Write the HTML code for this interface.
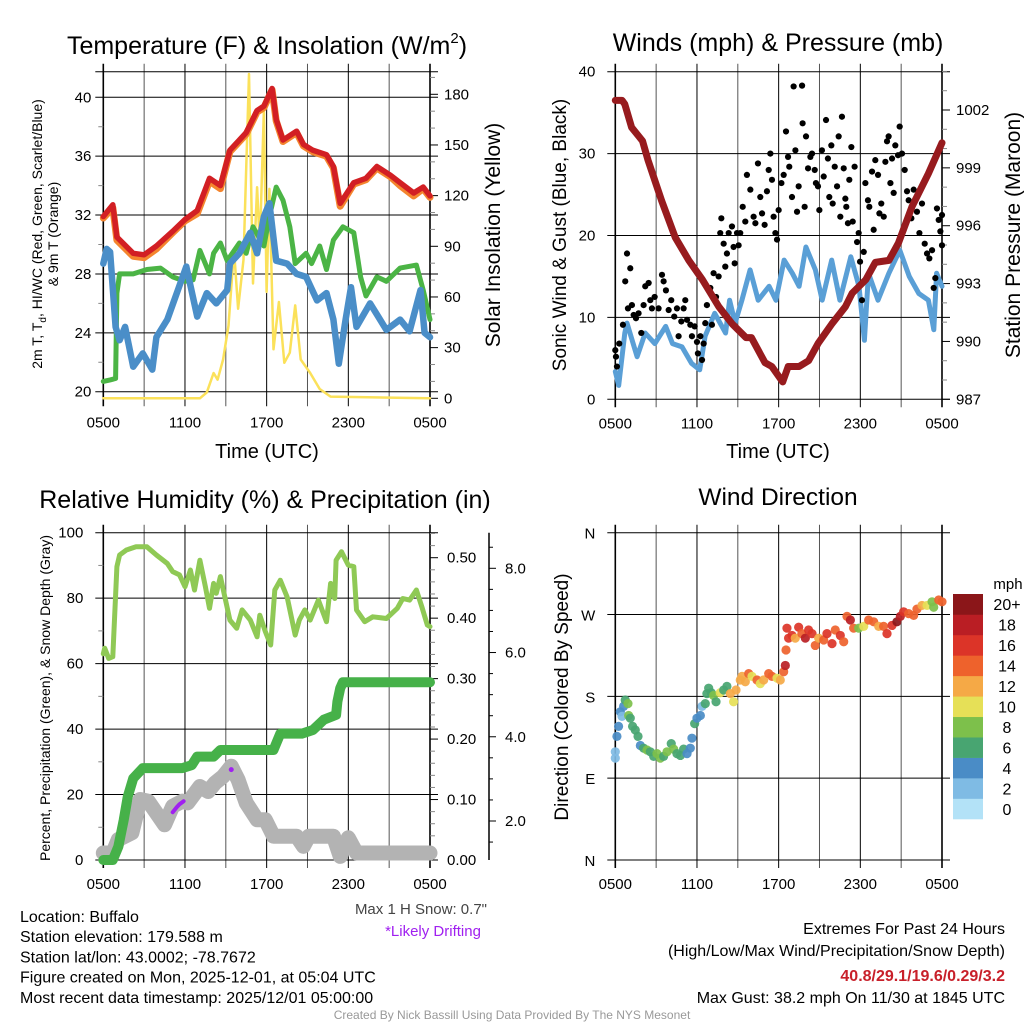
<!DOCTYPE html>
<html><head><meta charset="utf-8"><style>
body{margin:0;background:#fff}
svg{display:block}
text{font-family:"Liberation Sans",sans-serif}
</style></head><body>
<svg id="svg" width="1024" height="1024" viewBox="0 0 1024 1024" xmlns="http://www.w3.org/2000/svg"></svg>
<script>
// ---------- data ----------
const xTickLabels=["0500","1100","1700","2300","0500"];
// Temperature panel
const tempRedH=[0,0.7,1,2.2,3,3.9,5.1,6,6.9,7.8,8.6,9.3,10,10.5,11.3,11.8,12.4,12.7,13.2,14.2,14.7,15.4,16.4,16.9,17.4,18.4,19.3,20.1,21.1,21.8,22.8,23.5,24];
const tempRedV=[31.9,32.7,30.5,29.4,29.3,29.9,30.9,31.7,32.3,34.5,34.0,36.4,37.1,37.6,39.1,39.4,40.6,38.5,37.1,37.7,36.8,36.4,36.1,35.3,32.8,34.2,34.5,35.3,34.7,34.2,33.5,33.9,33.3];
const tempOrangeV=[31.8,32.5,30.3,29.2,29.1,29.7,30.8,31.6,32.1,34.3,33.8,36.3,37.0,37.5,39.0,39.3,40.5,38.4,37.0,37.6,36.7,36.3,36.0,35.2,32.6,34.1,34.4,35.2,34.6,34.0,33.3,33.8,33.2];
const dewH=[0,0.5,0.9,1,1.2,2.2,3.2,4.2,5.1,6,6.6,7.1,7.8,8.1,8.6,9.1,10,10.5,11,11.8,12.2,12.7,13.2,13.7,14.1,14.9,15.3,15.9,16.4,16.9,17.6,18.4,18.9,19.3,20.1,20.8,21.8,23,23.5,24];
const dewV=[20.7,20.8,20.9,26.7,28.0,28.0,28.3,28.4,27.8,27.5,27.6,29.6,28.0,29.4,30.1,28.9,30.1,29.4,31.2,29.9,31.9,33.9,33.0,31.2,28.7,29.4,28.7,29.9,28.3,30.3,31.2,30.8,27.8,26.5,27.8,27.5,28.4,28.6,26.9,24.9];
const wcH=[0,0.25,0.5,0.9,1.2,1.6,2.2,2.9,3.6,3.9,4.7,5.4,6.1,6.9,7.6,8.3,9.1,9.3,10,10.8,11.3,11.8,12.2,12.7,13.5,14.2,14.9,15.7,16.4,16.9,17.3,17.8,18.2,18.6,19.6,20.8,21.8,22.5,23.3,23.6,24];
const wcV=[28.7,29.7,29.5,24.4,23.5,24.4,21.7,22.6,21.5,23.7,24.9,26.7,28.5,25.1,26.7,26.0,26.9,28.7,29.4,30.8,29.4,31.9,32.8,28.9,28.7,28.0,27.8,26.2,26.7,24.9,21.9,24.9,27.1,24.4,26.0,24.2,24.9,24.1,26.9,24.0,23.7];
const solarH=[0,7.1,7.6,8.1,8.4,8.8,9.2,9.6,9.9,10.3,10.7,11,11.3,11.5,11.8,12,12.2,12.5,12.9,13.3,13.7,14.1,14.5,15.2,15.9,16.7,24];
const solarV=[0,0,3.5,15,11,23,43,88,53,82,192,68,125,90,171,63,124,29,57,21,27,55,23,15,5.5,1,0];
// Winds panel
const windH=[0,0.25,0.7,0.86,1.6,2.2,2.9,3.7,4.2,4.9,5.6,6.2,6.6,7.3,8.1,8.4,8.8,9.3,9.9,10.5,11.3,11.8,12.4,13,13.5,14,14.7,15.2,15.9,16.5,17.3,17.9,18.3,18.6,19.3,20.1,20.9,21.6,22.3,23,23.4,23.6,24];
const windV=[3.4,1.7,8.1,9.3,5.2,8.1,6.8,8.9,6.8,6.4,4.4,3.6,7.7,10.5,8.1,12.1,9.3,12.1,15.8,12.1,13.8,12.1,17.0,15.4,13.8,18.6,15.8,12.1,17.0,12.1,17.4,13.8,7.2,15.4,12.1,15.4,18.2,15.0,12.9,12.1,8.5,15.4,13.8];
const presH=[0,0.5,0.7,1.2,2,2.4,3.4,4.4,5.4,6.4,7.6,8.6,9.6,10,11,11.5,12.3,12.7,13.5,14.2,14.9,15.9,16.9,17.4,18.4,19.1,20.1,20.8,21.8,23,24];
const presV=[1002.5,1002.5,1002.3,1001.1,1000.4,999.4,997.3,995.4,994.2,993.2,991.8,990.9,990.2,990.2,988.9,988.7,987.9,988.7,988.7,989.0,989.9,990.9,991.8,992.5,993.2,994.1,994.2,995.1,997.0,998.7,1000.3];
const gustH=[0,0.05,0.12,0.29,0.56,0.73,0.86,1.10,0.93,1.22,1.35,1.52,1.71,1.91,2.08,2.20,2.45,2.57,2.69,2.89,3.18,3.43,3.55,3.72,3.92,4.11,4.33,4.53,4.65,4.85,5.02,5.14,5.27,5.51,5.63,5.83,6.00,6.07,6.25,6.37,6.49,6.61,6.73,6.98,7.10,7.22,7.40,7.59,7.71,7.79,7.96,8.08,8.20,8.33,8.57,8.69,8.77,8.94,9.06,9.18,9.36,9.55,9.67,9.92,10.16,10.29,10.48,10.65,10.78,10.97,11.14,11.27,11.39,11.51,11.63,11.76,11.88,12.00,12.20,12.37,12.54,12.69,12.78,12.98,13.10,13.23,13.35,13.47,13.72,13.76,13.91,14.01,14.16,14.33,14.45,14.65,14.74,14.89,14.99,15.18,15.31,15.48,15.62,15.72,15.87,15.97,16.12,16.29,16.41,16.53,16.65,16.78,16.90,16.97,17.09,17.19,17.34,17.44,17.58,17.76,17.88,17.98,18.12,18.25,18.37,18.56,18.66,18.86,18.98,19.10,19.30,19.40,19.54,19.72,19.84,19.96,20.08,20.21,20.33,20.45,20.57,20.77,20.89,21.06,21.26,21.43,21.55,21.75,21.92,22.16,22.34,22.53,22.73,22.90,23.07,23.27,23.39,23.51,23.63,23.76,23.88,24.0,24.0];
const gustV=[6.0,5.2,4.0,6.8,9.1,14.4,17.8,16.0,11.1,11.5,10.3,9.9,10.5,8.1,11.5,13.8,14.2,12.1,11.1,12.5,11.1,15.2,14.4,13.3,10.9,12.1,10.1,11.1,7.7,9.5,11.1,12.1,9.7,9.1,7.7,8.9,7.0,5.6,7.7,4.8,6.8,9.3,11.5,13.6,9.1,15.4,12.5,15.0,20.3,22.1,19.0,16.2,17.8,20.3,21.1,18.6,16.6,20.3,18.8,20.3,23.5,21.7,27.4,25.6,22.3,21.5,28.8,24.7,22.7,21.3,25.4,28.0,30.0,26.8,22.3,20.3,19.5,23.1,26.4,27.4,32.7,29.6,28.4,24.7,38.2,30.4,22.9,26.0,38.3,33.7,23.5,32.1,28.2,29.6,30.0,28.0,26.4,26.0,23.1,30.4,27.2,34.1,29.4,24.7,31.0,23.9,28.4,26.0,32.1,22.3,34.5,28.2,24.5,23.5,21.5,26.8,30.8,21.7,28.4,19.2,20.3,16.8,12.1,18.0,26.4,24.3,23.5,27.8,20.7,29.2,27.4,22.7,23.9,22.3,29.0,31.5,32.1,26.4,29.4,25.2,31.0,29.8,33.3,30.0,28.0,25.4,24.3,22.1,25.6,22.9,20.3,23.9,19.0,17.8,17.2,18.2,13.6,14.8,23.3,21.9,20.5,22.5,18.8];
// RH / precip panel
const rhH=[0,0.1,0.4,0.7,1,1.2,1.7,2.4,3.2,3.9,4.7,5.1,5.6,6,6.4,6.7,7.1,7.5,7.8,8.1,8.3,8.6,9.3,9.8,10.2,10.8,11.3,11.5,11.9,12.3,12.6,13,13.5,14.1,14.4,14.8,15.2,15.8,16.4,16.7,17,17.1,17.5,18,18.4,18.6,19.2,19.8,20.8,21.6,22,22.5,23,23.4,23.8,24];
const rhV=[63,64.7,61.6,62.1,89.6,93.2,94.7,95.7,95.7,93.2,90.6,88.1,87.1,83.5,88.6,82.5,91.6,83.5,76.9,84.5,81.5,86.6,73.3,70.8,76.4,73.3,68.2,74.8,69.8,65.7,82.5,85.5,80.4,68.7,73.3,76.4,73.3,79.4,72.8,84.5,79.9,91.6,94.2,90.1,89.6,76.4,72.8,74.3,73.8,76.9,79.9,79.4,82.5,77.4,71.8,71.3];
const precipH=[0,0.7,1.1,1.5,1.8,2.2,2.9,5.8,6.5,6.9,8.1,8.6,12.5,13,14.6,15.4,16.2,17.1,17.2,17.4,17.6,24];
const precipV=[0,0,0.022,0.066,0.105,0.135,0.152,0.152,0.157,0.171,0.171,0.182,0.182,0.209,0.209,0.215,0.232,0.240,0.262,0.284,0.294,0.294];
const snowH=[0,0.7,1.1,2.1,2.7,3.3,3.9,4.5,5.1,5.8,6.2,7.1,7.7,8.2,8.8,9.4,9.9,10.5,11.3,11.9,12.5,14.2,14.7,15.1,16.9,17.4,18,18.6,24];
const snowV=[1.24,1.24,1.56,1.72,2.51,2.47,2.19,1.91,2.35,2.47,2.43,2.82,2.70,2.90,3.06,3.30,2.98,2.43,2.03,2.03,1.64,1.64,1.40,1.64,1.64,1.16,1.60,1.24,1.24];
const driftH=[5.1,5.4,5.6,5.9];
const driftV=[2.21,2.33,2.40,2.47];
const driftDotH=[9.4];
const driftDotV=[3.22];
// Wind direction panel
const dirH=[0,0,0.12,0.24,0.37,0.49,0.61,0.73,0.93,0.98,1.10,1.27,1.47,1.67,1.84,2.08,2.33,2.57,2.82,3.06,3.31,3.55,3.80,4.11,4.29,4.53,4.78,5.02,5.27,5.51,5.63,5.83,6.00,6.25,6.37,6.61,6.73,6.86,7.05,7.22,7.40,7.71,7.96,8.20,8.45,8.69,8.87,9.18,9.31,9.55,9.80,10.04,10.41,10.65,10.90,11.27,11.51,11.88,12.12,12.37,12.49,12.54,12.61,12.73,12.98,13.22,13.47,13.71,13.96,14.20,14.45,14.69,14.94,15.31,15.55,15.92,16.16,16.53,16.78,17.02,17.27,17.51,17.88,18.25,18.61,18.98,19.35,19.71,19.96,20.33,20.69,20.94,21.18,21.55,21.92,22.16,22.53,22.90,23.27,23.39,23.76,24];
const dirDeg=[112,119,136,147,163,158,169,176,172,159,156,147,143,136,126,123,121,119,114,117,112,114,119,128,122,117,115,122,117,123,134,150,156,159,169,172,183,189,184,181,174,184,187,191,183,174,187,198,202,196,205,202,198,194,198,205,202,200,198,207,214,231,255,244,247,244,256,249,244,253,249,236,244,242,249,238,253,247,240,268,264,255,255,257,264,262,257,257,249,258,262,268,273,271,269,276,280,280,284,278,286,284];
const dirSpd=[2,3,4,4,4,3,5,7,8,8,7,6,6,6,5,7,8,6,6,8,8,7,8,6,8,6,6,6,4,4,4,6,4,4,3,6,6,6,7,8,6,11,6,7,12,10,12,12,12,13,14,11,14,10,12,15,14,10,13,15,18,14,16,17,16,13,16,15,18,17,16,14,13,15,16,16,15,16,14,15,19,14,9,10,15,15,12,15,16,16,20,19,17,15,14,14,13,10,8,9,14,14];
const speedBinLabels=["0","2","4","6","8","10","12","14","16","18","20+"];
const speedBinColors=["#b3e2f7","#7fbbe4","#4a8cc6","#48a571","#7dc04b","#e6e057","#f5a946","#ee622c","#dc3428","#ba1e24","#8b1619"];

// ---------- helpers ----------
const NS="http://www.w3.org/2000/svg";
const svg=document.getElementById('svg');
function mk(tag,attrs,parent,txt){const e=document.createElementNS(NS,tag);for(const k in attrs)e.setAttribute(k,attrs[k]);if(txt!==undefined)e.textContent=txt;(parent||svg).appendChild(e);return e;}
function lin(d0,d1,r0,r1){return v=>r0+(v-d0)*(r1-r0)/(d1-d0);}
const X0=103.3,X1=430,X0b=615.3,X1b=942;

function label(g,x,y,t,size,anchor,rot,name,extra){
  const a={x:x,y:y,'font-size':size,'text-anchor':anchor||'middle',fill:'#000'};
  if(rot)a.transform='rotate(-90 '+x+' '+y+')';
  Object.assign(a,extra||{});
  const e=mk('text',a,g,t);return e;}
function frame(g,x0,x1,yt,yb,hLines){
  for(let i=0;i<=8;i++){const x=x0+(x1-x0)*i/8;
    const l=mk('line',{x1:x,x2:x,y1:yt-8,y2:yb+8,stroke:(i%2?'#555':'#000'),'stroke-width':(i==0||i==8)?1.6:1},g);
    }
  hLines.forEach(y=>{const l=mk('line',{x1:x0-8,x2:x1+8,y1:y,y2:y,stroke:'#000','stroke-width':1},g);
    });
  xTickLabels.forEach((t,i)=>label(g,x0+(x1-x0)*i/4,yb+29,t,15,'middle',0,'x-tick-label'));
}
function path(g,hs,vs,sx,sy,attrs,name){
  let d='';hs.forEach((h,i)=>{d+=(i?'L':'M')+sx(h).toFixed(1)+','+sy(vs[i]).toFixed(1);});
  const p=mk('path',Object.assign({d:d,fill:'none','stroke-linejoin':'round','stroke-linecap':'round'},attrs),g);
  return p;}

// ---------- Panel 1: temperature ----------
{
const g=mk('g',{});
const yt=71.7,yb=398.3;
const sy=lin(20,40,391.7,97.3), sx=lin(0,24,X0,X1), ss=lin(0,180,398.3,94.3);
frame(g,X0,X1,yt,yb,[20,24,28,32,36,40].map(sy).concat([yt]));
[22,26,30,34,38].forEach(v=>mk('line',{x1:X0-5,x2:X0,y1:sy(v),y2:sy(v),stroke:'#888'},g));
[20,24,28,32,36,40].forEach(v=>label(g,X0-12,sy(v)+5,String(v),15,'end',0,'left-tick-label'));
for(let v=0;v<=190;v+=10){const y=ss(v);mk('line',{x1:X1,x2:X1+(v%30?5:8),y1:y,y2:y,stroke:v%30?'#888':'#000'},g);}
[0,30,60,90,120,150,180].forEach(v=>label(g,X1+14,ss(v)+5,String(v),15,'start',0,'right-tick-label'));
path(g,solarH,solarV,sx,ss,{stroke:'#fbe15a','stroke-width':2.5},'solar-insolation-line');
path(g,dewH,dewV,sx,sy,{stroke:'#4bb445','stroke-width':5},'dewpoint-line');
path(g,wcH,wcV,sx,sy,{stroke:'#4a8ec8','stroke-width':6.5},'wind-chill-line');
path(g,tempRedH,tempOrangeV,sx,sy,{stroke:'#f4852e','stroke-width':7},'temp-9m-line');
path(g,tempRedH,tempRedV,sx,sy,{stroke:'#d21f24','stroke-width':5.5},'temp-2m-line');
const tt=label(g,267,54,'',25,'middle',0,'chart-title-temperature');
mk('tspan',{},tt,'Temperature (F) & Insolation (W/m');
mk('tspan',{'font-size':15,dy:-11},tt,'2');
mk('tspan',{dy:11},tt,')');
label(g,267,458,'Time (UTC)',20,'middle',0,'x-axis-title');
const yl=label(g,42,234,'',14,'middle',1,'y-axis-title');
mk('tspan',{},yl,'2m T, T');mk('tspan',{'font-size':10,dy:4},yl,'d');mk('tspan',{dy:-4},yl,', HI/WC (Red, Green, Scarlet/Blue)');
label(g,58,234,'& 9m T (Orange)',14,'middle',1,'y-axis-title-line2');
label(g,500,235,'Solar Insolation (Yellow)',21,'middle',1,'right-axis-title');
}
// ---------- Panel 2: winds ----------
{
const g=mk('g',{});
const yt=71.7,yb=399.3;
const sy=lin(0,40,399.3,71.7), sx=lin(0,24,X0b,X1b), sp=lin(987,1002,399.3,110);
frame(g,X0b,X1b,yt,yb,[0,10,20,30,40].map(sy));
[0,10,20,30,40].forEach(v=>label(g,X0b-20,sy(v)+5,String(v),15,'end',0,'left-tick-label'));
for(let v=987;v<=1004;v++){const y=sp(v);mk('line',{x1:X1b,x2:X1b+((v-987)%3?5:8),y1:y,y2:y,stroke:(v-987)%3?'#888':'#000'},g);}
[987,990,993,996,999,1002].forEach(v=>label(g,X1b+14,sp(v)+5,String(v),15,'start',0,'right-tick-label'));
path(g,windH,windV,sx,sy,{stroke:'#5a9fd6','stroke-width':5},'sonic-wind-line');
gustH.forEach((h,i)=>{const c=mk('circle',{cx:sx(h),cy:sy(gustV[i]),r:3.1,fill:'#000'},g);
  });
path(g,presH,presV,sx,sp,{stroke:'#971b1e','stroke-width':7},'pressure-line');
label(g,778,51,'Winds (mph) & Pressure (mb)',25,'middle',0,'chart-title-winds');
label(g,778,458,'Time (UTC)',20,'middle',0,'x-axis-title');
label(g,566,235,'Sonic Wind & Gust (Blue, Black)',19,'middle',1,'y-axis-title');
label(g,1020,235,'Station Pressure (Maroon)',21,'middle',1,'right-axis-title');
}
// ---------- Panel 3: RH & precip ----------
{
const g=mk('g',{});
const yt=532.7,yb=860;
const sy=lin(0,100,860,532.7), sx=lin(0,24,X0,X1), sp=lin(0,0.5,860,557.7), sn=lin(2,8,821,568.3);
frame(g,X0,X1,yt,yb,[0,20,40,60,80,100].map(sy));
[0,20,40,60,80,100].forEach(v=>label(g,X0-20,sy(v)+5,String(v),15,'end',0,'left-tick-label'));
[10,30,50,70,90].forEach(v=>mk('line',{x1:X0-5,x2:X0,y1:sy(v),y2:sy(v),stroke:'#888'},g));
for(let k=0;k<=27;k++){const v=k*0.02;const y=sp(v);if(y<yt-2)continue;mk('line',{x1:X1,x2:X1+(k%5?5:8),y1:y,y2:y,stroke:k%5?'#888':'#000'},g);}
["0.00","0.10","0.20","0.30","0.40","0.50"].forEach((t,i)=>label(g,X1+17,sp(i*0.1)+5,t,15,'start',0,'precip-tick-label'));
const ax=489;
const sa=mk('line',{x1:ax,x2:ax,y1:yt,y2:yb,stroke:'#000','stroke-width':1.5},g);

for(let k=2;k<=17;k++){const v=k*0.5;const y=sn(v);if(y<yt||y>yb)continue;mk('line',{x1:ax,x2:ax+(k%4?4:7),y1:y,y2:y,stroke:'#000'},g);}
[2,4,6,8].forEach(v=>label(g,505,sn(v)+5,v.toFixed(1),15,'start',0,'snow-tick-label'));
path(g,snowH,snowV,sx,sn,{stroke:'#b3b3b3','stroke-width':15},'snow-depth-line');
path(g,driftH,driftV,sx,sn,{stroke:'#a020f0','stroke-width':4},'drifting-segment');
driftDotH.forEach((h,i)=>{const c=mk('circle',{cx:sx(h),cy:sn(driftDotV[i]),r:2.5,fill:'#a020f0'},g);});
path(g,precipH,precipV,sx,sp,{stroke:'#46b149','stroke-width':10},'precipitation-line');
path(g,rhH,rhV,sx,sy,{stroke:'#8fc955','stroke-width':5},'relative-humidity-line');
label(g,265,508,'Relative Humidity (%) & Precipitation (in)',25,'middle',0,'chart-title-humidity');
label(g,50,698,'Percent, Precipitation (Green), & Snow Depth (Gray)',14,'middle',1,'y-axis-title');
label(g,487,914,'Max 1 H Snow: 0.7"',15,'end',0,'max-snow-note',{fill:'#444'});
label(g,433,936,'*Likely Drifting',15,'middle',0,'drifting-note',{fill:'#a020f0'});
}
// ---------- Panel 4: wind direction ----------
{
const g=mk('g',{});
const yt=532.7,yb=860;
const sy=lin(0,360,860,532.7), sx=lin(0,24,X0b,X1b);
frame(g,X0b,X1b,yt,yb,[0,90,180,270,360].map(sy));
["N","E","S","W","N"].forEach((t,i)=>label(g,X0b-20,sy(i*90)+6,t,15,'end',0,'direction-tick-label'));
dirH.forEach((h,i)=>{const b=Math.min(10,Math.floor(dirSpd[i]/2));
  const c=mk('circle',{cx:sx(h),cy:sy(dirDeg[i]),r:4.6,fill:speedBinColors[b],'fill-opacity':0.92},g);
  });
const lb0=819,lh=(819-594)/11;
speedBinColors.forEach((c,i)=>{const r=mk('rect',{x:953,y:lb0-(i+1)*lh,width:30,height:lh+0.3,fill:c},g);
  
  label(g,1007,lb0-i*lh-lh/2+6,speedBinLabels[i],16,'middle',0,'legend-label');});
label(g,1008,589,'mph',15,'middle',0,'legend-title');
label(g,778,505,'Wind Direction',24.5,'middle',0,'chart-title-direction');
label(g,568,697,'Direction (Colored By Speed)',19,'middle',1,'y-axis-title');
}
// ---------- footer text ----------
{
const g=mk('g',{});
["Location: Buffalo","Station elevation: 179.588 m","Station lat/lon: 43.0002; -78.7672","Figure created on Mon, 2025-12-01, at 05:04 UTC","Most recent data timestamp: 2025/12/01 05:00:00"].forEach((t,i)=>label(g,20,922+i*20.2,t,16,'start',0,'station-info-line'));
label(g,1005,934,'Extremes For Past 24 Hours',16,'end',0,'extremes-title');
label(g,1005,956,'(High/Low/Max Wind/Precipitation/Snow Depth)',16,'end',0,'extremes-legend');
label(g,1005,981,'40.8/29.1/19.6/0.29/3.2',16,'end',0,'extremes-values',{fill:'#c8202a','font-weight':'bold'});
label(g,1005,1003,'Max Gust: 38.2 mph On 11/30 at 1845 UTC',16,'end',0,'max-gust-note');
label(g,512,1019,'Created By Nick Bassill Using Data Provided By The NYS Mesonet',12,'middle',0,'credit-line',{fill:'#999'});
}
</script>
</body></html>
